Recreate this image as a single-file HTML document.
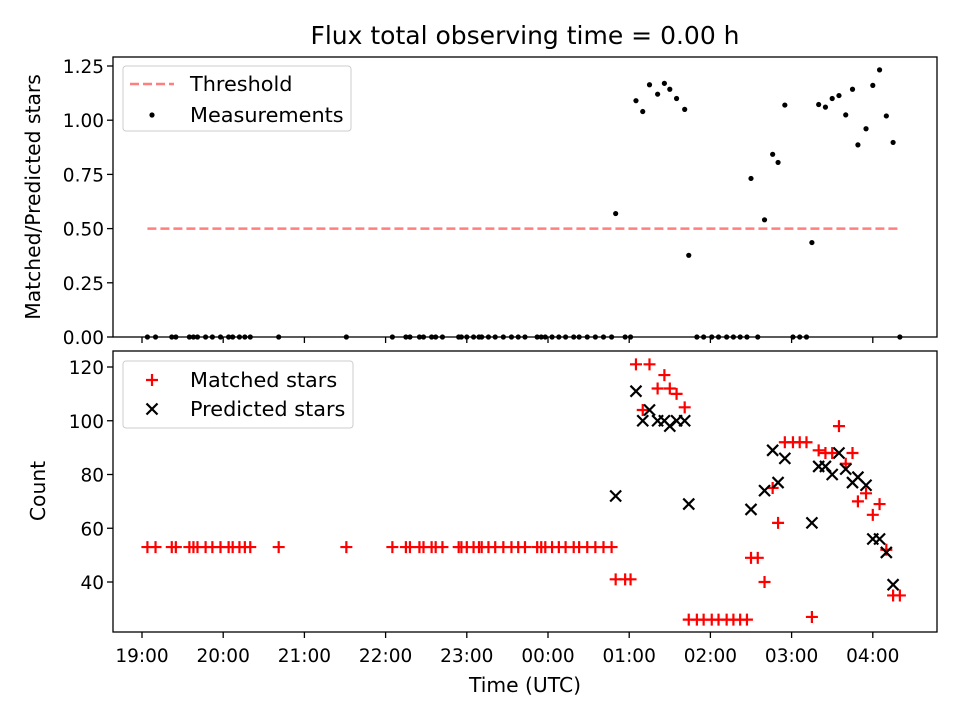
<!DOCTYPE html>
<html><head><meta charset="utf-8"><style>
body{margin:0;background:#fff;}
svg text{font-family:"DejaVu Sans","Liberation Sans",sans-serif;fill:#000;}
</style></head><body>
<svg id="chart" width="960" height="720" xmlns="http://www.w3.org/2000/svg">
<rect width="960" height="720" fill="#fff"/>
<text x="525" y="44" font-size="25" text-anchor="middle">Flux total observing time = 0.00 h</text>
<g id="gtop"></g><g id="gbot"></g>
</svg>
<script>
// minutes since 19:00
const times=[4,10,22,25,35,38,41,47,52,58,64,67,72,76,80,101,151,185,195,198,205,208,214,217,222,234,236,240,245,249,251,256,261,267,273,278,283,292,295,298,303,308,313,319,323,329,335,341,347,
350,357,361,365,370,375,381,386,390,395,401,404,410,415,421,426,432,437,442,447,450,455,460,466,470,475,481,486,491,495,500,505,510,515,520,525,529,535,540,545,550,555,560];
const matched=[53,53,53,53,53,53,53,53,53,53,
53,53,53,53,53,53,53,53,53,53,
53,53,53,53,53,53,53,53,53,53,
53,53,53,53,53,53,53,53,53,53,
53,53,53,53,53,53,53,53,53,
41,41,41,121,104,121,112,117,112,110,105,26,26,26,26,26,26,26,26,26,49,49,40,75,62,92,92,92,92,27,89,88,88,98,84,88,70,73,65,69,52,35,35];
const predTimes=[350,365,370,375,381,386,390,395,401,404,450,460,466,470,475,495,500,505,510,515,520,525,529,535,540,545,550,555];
const predVals=[72,111,100,104,100,100,98,100,100,69,67,74,89,77,86,62,83,83,80,88,82,77,79,76,56,56,51,39];
const threshold=0.5;
const xTickLabels=["19:00","20:00","21:00","22:00","23:00","00:00","01:00","02:00","03:00","04:00"];
const xTickMinutes=[0,60,120,180,240,300,360,420,480,540];
const topTicks=[0,0.25,0.5,0.75,1.0,1.25];
const botTicks=[40,60,80,100,120];

const NS="http://www.w3.org/2000/svg";
const L=113,R=937,FS=18.5,LS=20.3,GS=20.8;
const X=m=>142+m*81.2/60;
const Yt=v=>337-v*216.8;
const Yb=v=>582-(v-40)*2.6875;
function mk(p,tag,a){const e=document.createElementNS(NS,tag);for(const k in a)e.setAttribute(k,a[k]);p.appendChild(e);return e;}
const gTop=document.getElementById('gtop'),gBot=document.getElementById('gbot');

function frame(g,y0,y1,name){
  const r=mk(g,'rect',{x:L,y:y0,width:R-L,height:y1-y0,fill:'none',stroke:'#000','stroke-width':1.3});
  
  
  xTickMinutes.forEach((m)=>{
    const t=mk(g,'line',{x1:X(m),x2:X(m),y1:y1,y2:y1+6,stroke:'#000','stroke-width':1.3});
    
    
  });
}
frame(gTop,57,337,'top-axes');frame(gBot,351,632,'bottom-axes');
xTickMinutes.forEach((m,i)=>{
  const t=mk(gBot,'text',{x:X(m),y:662,'font-size':FS,'text-anchor':'middle'});t.textContent=xTickLabels[i];
  
  
});
topTicks.forEach(v=>{
  mk(gTop,'line',{x1:L-6,x2:L,y1:Yt(v),y2:Yt(v),stroke:'#000','stroke-width':1.3});
  const t=mk(gTop,'text',{x:L-9,y:Yt(v)+7,'font-size':FS,'text-anchor':'end'});t.textContent=v.toFixed(2);
  
  
});
botTicks.forEach(v=>{
  mk(gBot,'line',{x1:L-6,x2:L,y1:Yb(v),y2:Yb(v),stroke:'#000','stroke-width':1.3});
  const t=mk(gBot,'text',{x:L-9,y:Yb(v)+7,'font-size':FS,'text-anchor':'end'});t.textContent=v;
  
  
});
let tx=mk(gBot,'text',{x:525,y:692,'font-size':LS,'text-anchor':'middle'});tx.textContent='Time (UTC)';


tx=mk(gTop,'text',{x:0,y:0,'font-size':LS,'text-anchor':'middle',transform:'translate(40,197) rotate(-90)'});tx.textContent='Matched/Predicted stars';


tx=mk(gBot,'text',{x:0,y:0,'font-size':LS,'text-anchor':'middle',transform:'translate(45,491) rotate(-90)'});tx.textContent='Count';



const th=mk(gTop,'line',{x1:X(times[0]),x2:X(times[times.length-1]),y1:Yt(threshold),y2:Yt(threshold),stroke:'#ff7f7f','stroke-width':2.5,'stroke-dasharray':'9,4'});


times.forEach((m,i)=>{
  const j=predTimes.indexOf(m);
  const r=j>=0?matched[i]/predVals[j]:0;
  const c=mk(gTop,'circle',{cx:X(m),cy:Yt(r),r:2.6,fill:'#000'});
  
  
});
function plus(g,x,y){return mk(g,'path',{d:`M${x-6} ${y}H${x+6}M${x} ${y-6}V${y+6}`,stroke:'#f00','stroke-width':2.2,fill:'none'});}
function cross(g,x,y){return mk(g,'path',{d:`M${x-5.5} ${y-5.5}L${x+5.5} ${y+5.5}M${x-5.5} ${y+5.5}L${x+5.5} ${y-5.5}`,stroke:'#000','stroke-width':2.2,fill:'none'});}
times.forEach((m,i)=>{
  const p=plus(gBot,X(m),Yb(matched[i]));
  
  
});
predTimes.forEach((m,i)=>{
  const p=cross(gBot,X(m),Yb(predVals[i]));
  
  
});
let lg=mk(gTop,'rect',{x:123,y:66,width:228,height:65,rx:3,fill:'#fff',stroke:'#ccc','fill-opacity':0.8});


mk(gTop,'line',{x1:130,x2:174,y1:84,y2:84,stroke:'#ff7f7f','stroke-width':2.5,'stroke-dasharray':'9,4'});
tx=mk(gTop,'text',{x:190,y:91,'font-size':GS});tx.textContent='Threshold';


mk(gTop,'circle',{cx:152,cy:115,r:2.6,fill:'#000'});
tx=mk(gTop,'text',{x:190,y:122,'font-size':GS});tx.textContent='Measurements';


lg=mk(gBot,'rect',{x:123,y:361,width:230,height:67,rx:3,fill:'#fff',stroke:'#ccc','fill-opacity':0.8});


plus(gBot,152,380);
tx=mk(gBot,'text',{x:190,y:387,'font-size':GS});tx.textContent='Matched stars';


cross(gBot,152,409);
tx=mk(gBot,'text',{x:190,y:416,'font-size':GS});tx.textContent='Predicted stars';


</script>
</body></html>
